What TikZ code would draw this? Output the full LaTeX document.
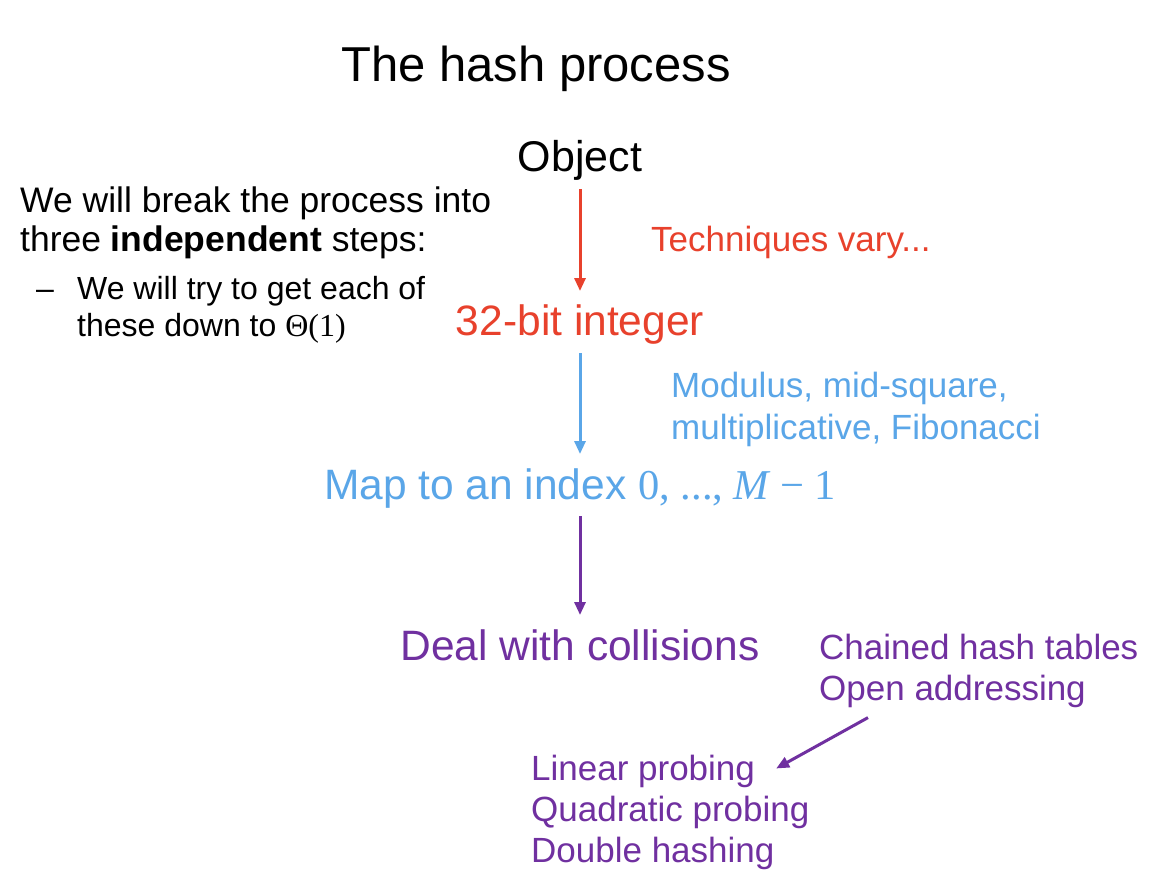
\documentclass[tikz,border=0pt]{standalone}
\usepackage{fontspec}
\setmainfont{Liberation Sans}
\newfontfamily\serifmath{Liberation Serif}
\usetikzlibrary{arrows.meta,positioning}
\definecolor{HashRed}{HTML}{E8412C}
\definecolor{HashBlue}{HTML}{5AA6E8}
\definecolor{HashPurple}{HTML}{7030A0}
\tikzset{
  hstep/.style={inner sep=0pt, anchor=base, font=\fontsize{42.5}{48}\selectfont},
  hbody/.style={inner sep=0pt, anchor=base west, align=left, font=\fontsize{35.5}{39.5}\selectfont},
  hsub/.style={inner sep=0pt, anchor=base west, align=left, font=\fontsize{32}{37.5}\selectfont},
  hnote/.style={inner sep=0pt, anchor=base west, align=left, font=\fontsize{35}{41.5}\selectfont},
  hitem/.style={inner sep=0pt, text height=26pt, text depth=9pt, font=\fontsize{35}{41}\selectfont, text=HashPurple},
  harrow/.style={-{Triangle[length=13pt,width=11pt]}, line width=3pt},
  hstem/.style={harrow, shorten <=8pt, shorten >=14pt}
}
\begin{document}
\begin{tikzpicture}[x=1pt, y=-1pt]
  \useasboundingbox[fill=white] (0,0) rectangle (1165,882);
  \node[inner sep=0pt, anchor=base, font=\fontsize{49}{55}\selectfont] (title) at (536,82) {The hash process};
  % left hand remarks (base = last line)
  \node[hbody] (intro) at (20,252) {We will break the process into\\three \textbf{independent} steps:};
  \node[hsub] (dash) at (36,300) {–};
  \node[hsub] (goal) at (77,337) {We will try to get each of\\these down to {\serifmath Θ(1)}};
  % the three steps
  \node[hstep, font=\fontsize{43}{48}\selectfont] (obj) at (580,172) {Object};
  \node[hstep, text=HashRed] (int) at (580,336) {32-bit integer};
  \node[hstep, text=HashBlue] (map) at (580,499) {Map to an index {\serifmath 0, ..., {\itshape M} − 1}};
  \node[hstep, text=HashPurple] (deal) at (580,660) {Deal with collisions};
  \draw[hstem, HashRed] (obj.south) -- (int.north);
  \draw[hstem, HashBlue] (int.south) -- (map.north);
  \draw[hstem, HashPurple] (map.south) -- (deal.north);
  % techniques for each step
  \node[hnote, text=HashRed] (vary) at (651,252) {Techniques vary...};
  \node[hnote, text=HashBlue] (modl) at (671,439) {Modulus, mid-square,\\multiplicative, Fibonacci};
  \node[hitem, anchor=base west] (chain) at (819,659) {Chained hash tables};
  \node[hitem, below=6pt of chain.south west, anchor=north west] (open) {Open addressing};
  \node[hitem, anchor=base west] (lin) at (531,780) {Linear probing};
  \node[hitem, below=6pt of lin.south west, anchor=north west] (quad) {Quadratic probing};
  \node[hitem, below=6pt of quad.south west, anchor=north west] (dbl) {Double hashing};
  \draw[harrow, HashPurple] ([xshift=49pt,yshift=-8pt]open.south west) -- ([xshift=21pt,yshift=3pt]lin.east);
\end{tikzpicture}
\end{document}
